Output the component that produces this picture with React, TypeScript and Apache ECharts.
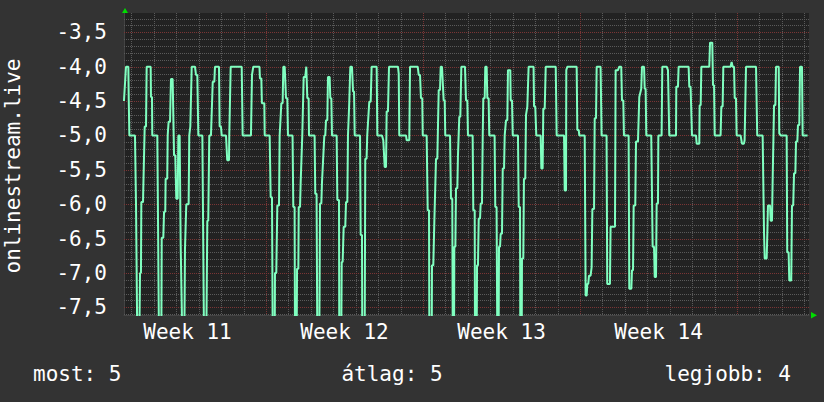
import React, { useEffect, useRef } from 'react';
import * as echarts from 'echarts';

// time in hours from the start of week 11, value = ranking (negative)
const hours = [
  16, 18.2, 20.7, 21.1, 21.8, 27.8, 28.9, 30.3, 32.4, 33.2, 34.2, 34.6, 36.4, 36.7, 38.2, 39.6, 40.3, 44.6, 44.9, 46,
  46.3, 51.7, 53.5, 56, 56.4, 58.1, 58.9, 60.2, 60.6, 62.3, 62.8, 63.8, 65.3, 66.3, 68.1, 69.6, 70.9, 72, 73.5, 74.2,
  75.6, 76.7, 78.5, 80.6, 81.3, 82.7, 85.2, 85.9, 87, 88.5, 92, 93.1, 94.5, 95.6, 99.9, 101.7, 104.1, 105.2, 106.2, 107.3,
  109.1, 111, 112.7, 113.4, 117.7, 118.4, 119.8, 120.6, 125.2, 126.5, 128.4, 128.7, 130.2, 142, 143, 151.9, 153, 154.4, 161, 161.5,
  163, 163.6, 166.2, 166.6, 171.9, 173, 174.4, 175.2, 177.3, 177.6, 179, 180.1, 181.9, 182.6, 184.4, 185.8, 186.5, 188, 189.4, 190.8,
  191.5, 196.4, 197.2, 198.6, 199, 200.8, 201.2, 202.6, 203, 204.4, 205.1, 206.8, 208.3, 210, 211.1, 212.2, 213.6, 214, 220, 220.7,
  222.1, 222.9, 225, 225.8, 227.2, 227.9, 230.4, 231.4, 232.2, 233.6, 234.3, 236.1, 236.8, 237.9, 238.6, 243.6, 244.3, 246.1, 246.4, 248.5,
  249, 250, 251.1, 252.8, 253.6, 255, 255.7, 257, 258.2, 260, 261.1, 262.2, 262.9, 268.6, 269.3, 270.7, 271, 273.6, 274.2, 275.6,
  276.3, 278.5, 280, 281, 286.4, 287.1, 292.1, 293.5, 295, 296.4, 297.1, 298.5, 299.6, 309.2, 310, 310.6, 317.8, 318.5, 321.3, 322.1,
  330.3, 331.4, 332.8, 333.8, 335.2, 335.7, 339.9, 341, 342.4, 342.8, 345.3, 345.6, 347, 348.1, 349.9, 351.3, 352.8, 354.2, 354.9, 356.3,
  358.1, 359.2, 359.8, 364.9, 365.9, 367.3, 367.8, 369.2, 369.5, 370.6, 371.3, 372.7, 373.4, 374.8, 375.9, 377, 380.9, 382, 383.4, 384.1,
  389.1, 389.8, 391.3, 391.6, 393.4, 393.8, 394.8, 395.6, 397, 397.7, 399.1, 399.9, 400.5, 402, 402.6, 404.1, 404.8, 406.2, 406.9, 412.6,
  413.3, 414.7, 415.5, 416.9, 417.3, 418.4, 419.1, 420.5, 421.3, 422.7, 423.4, 424.8, 426.2, 426.9, 429.4, 429.8, 431.2, 432, 437.6, 438.4,
  439.8, 440.1, 441.6, 441.9, 443.3, 444, 445.4, 446.2, 447.6, 449, 454.3, 454.8, 456.1, 457.2, 461.9, 462.6, 464, 464.7, 466.2, 467.3,
  478, 479, 486.9, 487.6, 489, 489.3, 490.4, 500.4, 501.1, 502.6, 503.2, 509, 510, 511.1, 511.8, 512.8, 513.6, 515.3, 516.4, 517.2,
  519, 519.7, 521.1, 521.8, 526, 527.1, 532.4, 533.1, 536, 536.7, 541.4, 542.1, 544.6, 546, 548.1, 548.9, 550.3, 551, 556, 556.7,
  558.9, 559.6, 560.7, 561.4, 563.1, 563.9, 566, 567.4, 569.5, 570.3, 572.5, 573.2, 574.2, 574.9, 580.2, 581.7, 583.2, 583.9, 585.3, 586,
  587.4, 587.8, 591.3, 592, 596.7, 598.1, 599.5, 606.7, 607, 608.8, 609.5, 620.2, 620.9, 622.3, 623.8, 628.1, 628.8, 631.6, 632, 633.1,
  633.8, 642.3, 643.1, 645.5, 646.3, 647.4, 648.1, 654.4, 655.2, 656.6, 657.3, 665.1, 666.2, 667.3, 668.8, 669.5, 670.9, 671.6, 675.8, 677.3,
  679.4, 680.1, 681.6, 692.3, 693.6, 699.4, 700.9, 701.6, 703.7, 704.4, 705.1, 707.3, 708, 709.4, 710.2, 710.8, 711.6, 713, 713.7, 716.6,
  717.2, 718.7, 725.1, 725.7, 727.2, 727.9, 730, 730.8, 732.1, 733, 734.4, 735.1, 736.5, 737.2, 738.6, 739.4, 741.5, 742.2, 747.5,
];

const rank = [
  -4.5, -4.0, -4.0, -4.46, -5.0, -5.0, -6.0, -8, -8, -7.0, -7.0, -5.97, -5.97, -5.77, -4.87, -4.87, -4.0, -4.0, -4.44, -4.44,
  -5.0, -5.0, -8, -8, -6.49, -6.49, -6.11, -6.11, -5.63, -5.63, -5.0, -4.8, -4.8, -4.18, -4.18, -5.29, -5.29, -5.92, -5.92, -5.0,
  -5.0, -6.6, -8, -8, -6.65, -6.0, -6.0, -5.0, -4.87, -4.0, -4.0, -4.12, -4.12, -5.0, -5.0, -8, -8, -6.24, -6.24, -5.0,
  -5.0, -4.22, -4.22, -4.0, -4.0, -4.87, -4.87, -5.0, -5.0, -5.36, -5.36, -5.0, -4.0, -4.0, -5.0, -5.0, -4.12, -4.0, -4.0, -4.17,
  -4.17, -4.53, -4.53, -5.0, -5.0, -5.9, -5.9, -8, -8, -7.0, -7.0, -6.02, -6.02, -5.0, -4.53, -4.53, -4.0, -4.0, -4.46, -4.46,
  -5.0, -5.0, -6.04, -6.04, -8, -8, -6.94, -6.94, -6.04, -6.04, -5.68, -5.0, -4.15, -4.15, -4.0, -4.46, -4.46, -5.0, -5.0, -5.85,
  -5.85, -8, -8, -5.99, -5.99, -5.68, -5.0, -5.0, -4.78, -4.78, -4.15, -4.15, -4.46, -4.46, -5.0, -5.0, -5.94, -5.94, -8, -8,
  -6.84, -6.84, -6.33, -6.33, -5.97, -5.97, -5.0, -4.55, -4.0, -4.0, -4.36, -4.36, -5.0, -5.0, -6.45, -6.45, -8, -8, -5.34, -5.34,
  -5.0, -4.51, -4.51, -4.0, -4.0, -5.0, -5.0, -5.07, -5.46, -5.46, -4.65, -4.65, -4.0, -4.0, -4.1, -5.0, -5.0, -5.07, -5.07, -4.0,
  -4.0, -4.12, -4.12, -4.46, -4.46, -5.0, -5.0, -6.09, -6.09, -8, -8, -6.89, -6.89, -6.26, -5.34, -5.34, -4.34, -4.34, -4.0, -4.0,
  -4.49, -4.49, -5.0, -5.0, -5.92, -5.92, -8, -8, -6.62, -6.62, -5.77, -5.77, -5.29, -4.73, -4.73, -4.0, -4.0, -4.49, -4.49, -5.0,
  -5.0, -6.09, -6.09, -8, -8, -6.89, -6.89, -6.21, -6.21, -5.99, -5.99, -5.0, -4.46, -4.46, -4.0, -4.0, -4.46, -4.46, -5.0, -5.0,
  -6.04, -6.04, -8, -8, -6.62, -6.62, -6.43, -6.43, -5.48, -5.48, -5.0, -4.78, -4.78, -4.05, -4.05, -4.49, -4.49, -5.0, -5.0, -6.04,
  -6.04, -8, -8, -6.79, -6.79, -5.63, -5.63, -4.7, -4.58, -4.0, -4.0, -4.58, -4.58, -5.0, -5.0, -5.48, -5.48, -4.61, -4.61, -4.0,
  -4.0, -5.0, -5.0, -5.8, -5.8, -4.05, -4.0, -4.0, -4.92, -4.92, -5.0, -5.0, -7.33, -7.33, -7.16, -7.16, -7.04, -7.04, -6.92, -6.07,
  -6.07, -4.75, -4.75, -4.0, -4.0, -5.0, -5.0, -7.16, -7.16, -6.33, -6.33, -4.05, -4.05, -4.0, -4.0, -4.49, -4.49, -5.0, -5.0, -7.23,
  -7.23, -6.96, -6.96, -6.02, -6.02, -5.09, -5.09, -4.44, -4.32, -4.0, -4.0, -4.32, -4.32, -5.0, -5.0, -6.62, -6.62, -7.06, -7.06, -5.99,
  -5.99, -5.0, -5.0, -4.0, -4.0, -4.05, -5.0, -5.0, -4.29, -4.29, -4.0, -4.0, -4.29, -4.29, -5.0, -5.0, -5.12, -5.12, -4.56, -4.56,
  -4.0, -4.0, -3.65, -3.65, -4.27, -4.27, -5.0, -5.0, -4.58, -4.58, -4.0, -4.0, -3.93, -4.0, -4.0, -4.46, -4.46, -5.0, -5.0, -5.12,
  -5.12, -5.07, -4.0, -4.0, -5.0, -5.0, -6.43, -6.79, -6.79, -6.43, -6.02, -6.02, -6.24, -6.24, -5.58, -5.58, -4.56, -4.56, -4.0, -4.0,
  -4.97, -5.0, -5.0, -6.7, -6.7, -7.11, -7.11, -6.02, -6.02, -5.55, -5.55, -5.09, -5.09, -4.85, -4.85, -4.0, -4.0, -5.0, -5.0,
];

const weekLabels = ['Week 11', 'Week 12', 'Week 13', 'Week 14'];
const weekCenters = [84, 252, 420, 588];
const weekStarts = [168, 336, 504, 672];
const yTickValues = [-7.5, -7.0, -6.5, -6.0, -5.5, -5.0, -4.5, -4.0, -3.5];
const yAxisTitle = 'onlinestream.live';
const legendLabels = ['most', 'átlag', 'legjobb'];
const legendValues = [5, 5, 4];

const xMin = 16.05;
const xMax = 749;
const yMin = -7.612;
const yMax = -3.219;

const FONT = 'DejaVu Sans Mono';

export default function App() {
  const ref = useRef<HTMLDivElement>(null);
  useEffect(() => {
    if (!ref.current) return;
    const chart = echarts.init(ref.current, undefined, { renderer: 'svg' });

    const dayLines: number[] = [];
    for (let h = 24; h < xMax; h += 24) if (h > xMin && !weekStarts.includes(h)) dayLines.push(h);
    const minorY: number[] = [];
    for (let k = -76; k <= -33; k++) {
      const v = k / 10;
      if (v > yMin && v < yMax && k % 5 !== 0) minorY.push(v);
    }

    const hLine = (color: string) => (_p: any, api: any) => {
      const a = api.coord([xMin, api.value(1)]);
      const b = api.coord([xMax, api.value(1)]);
      const y = Math.round(a[1]) + 0.5;
      return {
        type: 'line',
        shape: { x1: Math.round(a[0]), y1: y, x2: Math.round(b[0]), y2: y },
        style: { stroke: color, lineWidth: 1, lineDash: [1, 1] },
        silent: true,
      };
    };
    const vLine = (color: string) => (_p: any, api: any) => {
      const a = api.coord([api.value(0), yMin]);
      const b = api.coord([api.value(0), yMax]);
      const x = Math.round(a[0]) + 0.5;
      return {
        type: 'line',
        shape: { x1: x, y1: Math.round(b[1]), x2: x, y2: Math.round(a[1]) },
        style: { stroke: color, lineWidth: 1, lineDash: [1, 1] },
        silent: true,
      };
    };
    const minorColor = '#5a5a5a';
    const majorColor = '#7a3535';
    const textColor = '#ffffff';

    const legendY = 373.5;
    const legendX = [33, 392, 791];
    const legendAlign = ['left', 'center', 'right'];

    chart.setOption({
      animation: false,
      backgroundColor: '#333333',
      textStyle: { fontFamily: FONT },
      grid: {
        left: 124, right: 15, top: 13, bottom: 87,
        show: true, backgroundColor: '#222222', borderWidth: 0,
        containLabel: false, outerBoundsMode: 'none',
      },
      xAxis: {
        type: 'value',
        min: xMin,
        max: xMax,
        splitLine: { show: false },
        axisTick: { show: false },
        axisLine: { show: true, lineStyle: { color: '#444444' } },
        axisLabel: {
          customValues: weekCenters,
          formatter: (v: number) => {
            const i = weekCenters.findIndex((c) => Math.abs(c - v) < 1);
            return i >= 0 ? weekLabels[i] : '';
          },
          color: textColor,
          fontSize: 21,
          fontFamily: FONT,
          margin: 6,
        },
      },
      yAxis: {
        type: 'value',
        min: yMin,
        max: yMax,
        splitLine: { show: false },
        axisTick: { show: false },
        axisLine: { show: true, lineStyle: { color: '#444444' } },
        axisLabel: {
          customValues: yTickValues,
          formatter: (v: number) => v.toFixed(1).replace('.', ','),
          color: textColor,
          fontSize: 21,
          fontFamily: FONT,
          margin: 17,
        },
      },
      graphic: [
        {
          type: 'text',
          x: 13,
          y: 166,
          rotation: Math.PI / 2,
          style: {
            text: yAxisTitle,
            fill: textColor,
            font: `21px "${FONT}"`,
            textAlign: 'center',
            textVerticalAlign: 'middle',
          },
        },
        ...legendLabels.map((l, i) => ({
          type: 'text',
          x: legendX[i],
          y: legendY,
          style: {
            text: `${l}: ${legendValues[i]}`,
            fill: textColor,
            font: `21px "${FONT}"`,
            textAlign: legendAlign[i],
            textVerticalAlign: 'middle',
          },
        })),
        { type: 'polygon', shape: { points: [[122, 13], [128, 13], [125, 8]] }, style: { fill: '#00dd00' }, z: 100 },
        { type: 'polygon', shape: { points: [[811, 312], [811, 318.5], [817, 315.2]] }, style: { fill: '#00dd00' }, z: 100 },
      ],
      series: [
        { type: 'custom', renderItem: hLine(minorColor), data: minorY.map((v) => [xMin, v]), silent: true, z: 1 },
        { type: 'custom', renderItem: vLine(minorColor), data: dayLines.map((h) => [h, yMin]), silent: true, z: 1 },
        { type: 'custom', renderItem: hLine(majorColor), data: yTickValues.map((v) => [xMin, v]), silent: true, z: 2 },
        { type: 'custom', renderItem: vLine(majorColor), data: weekStarts.map((h) => [h, yMin]), silent: true, z: 2 },
        {
          type: 'line',
          data: hours.map((t, i) => [t, rank[i]]),
          showSymbol: false,
          clip: true,
          lineStyle: { color: '#80ffc0', width: 2 },
          z: 5,
        },
      ],
    });
    return () => chart.dispose();
  }, []);
  return <div ref={ref} style={{ position: 'fixed', left: 0, top: 0, width: 824, height: 402 }} />;
}
